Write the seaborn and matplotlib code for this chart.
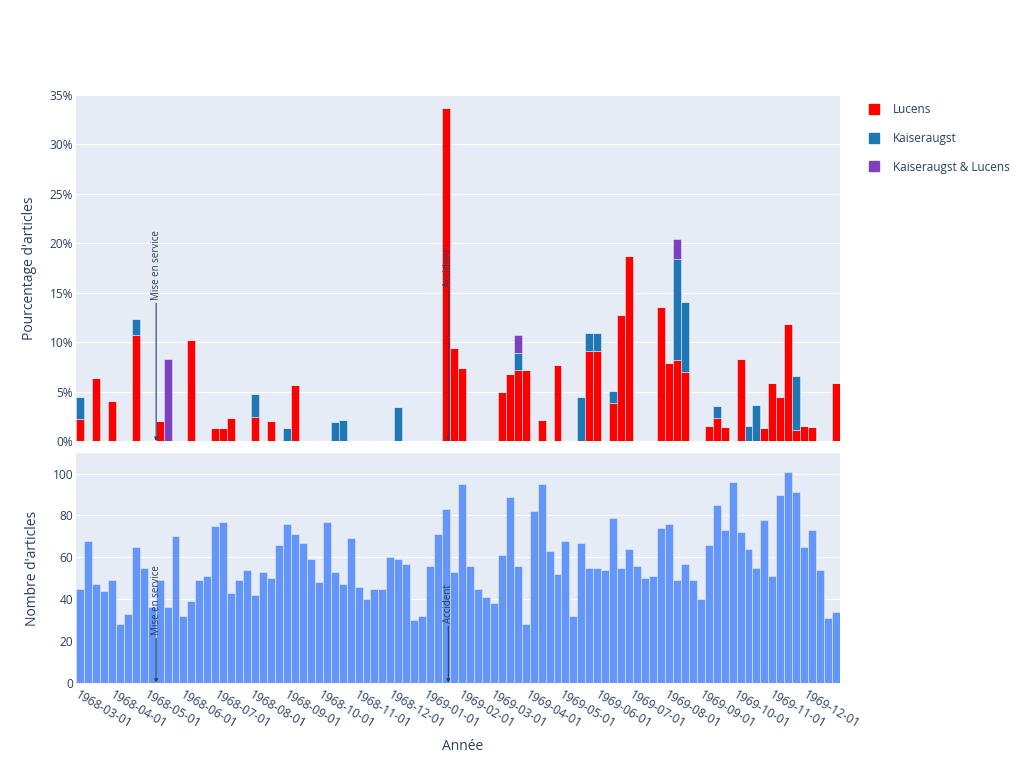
import numpy as np
import pandas as pd
import matplotlib
matplotlib.use('Agg')
import matplotlib.pyplot as plt
import matplotlib.dates as mdates
from matplotlib.lines import Line2D
from matplotlib.ticker import FuncFormatter, MultipleLocator
import seaborn as sns

# ---------------- data ----------------
weeks = pd.date_range('1968-03-01', periods=96, freq='7D')

nombre_articles = [
    45, 68, 47, 44, 49, 28, 33, 65, 55, 36, 49, 36,
    70, 32, 39, 49, 51, 75, 77, 43, 49, 54, 42, 53,
    50, 66, 76, 71, 67, 59, 48, 77, 53, 47, 69, 46,
    40, 45, 45, 60, 59, 57, 30, 32, 56, 71, 83, 53,
    95, 56, 45, 41, 38, 61, 89, 56, 28, 82, 95, 63,
    52, 68, 32, 67, 55, 55, 54, 79, 55, 64, 56, 50,
    51, 74, 76, 49, 57, 49, 40, 66, 85, 73, 96, 72,
    64, 55, 78, 51, 90, 101, 91, 65, 73, 54, 31, 34,
]

# percentages of articles per week
pct_lucens = [
    2.22, 0, 6.38, 0, 4.08, 0, 0, 10.77, 0, 0, 2.04, 0,
    0, 0, 10.26, 0, 0, 1.33, 1.30, 2.33, 0, 0, 2.38, 0,
    2.00, 0, 0, 5.63, 0, 0, 0, 0, 0, 0, 0, 0,
    0, 0, 0, 0, 0, 0, 0, 0, 0, 0, 33.73, 9.43,
    7.37, 0, 0, 0, 0, 4.92, 6.74, 7.14, 7.14, 0, 2.11, 0,
    7.69, 0, 0, 0, 9.09, 9.09, 0, 3.80, 12.73, 18.75, 0, 0,
    0, 13.51, 7.89, 8.16, 7.02, 0, 0, 1.52, 2.35, 1.37, 0, 8.33,
    0, 0, 1.28, 5.88, 4.44, 11.88, 1.10, 1.54, 1.37, 0, 0, 5.88,
]
pct_kaiseraugst = [
    2.22, 0, 0, 0, 0, 0, 0, 1.54, 0, 0, 0, 0,
    0, 0, 0, 0, 0, 0, 0, 0, 0, 0, 2.38, 0,
    0, 0, 1.32, 0, 0, 0, 0, 0, 1.89, 2.13, 0, 0,
    0, 0, 0, 0, 3.39, 0, 0, 0, 0, 0, 0, 0,
    0, 0, 0, 0, 0, 0, 0, 1.79, 0, 0, 0, 0,
    0, 0, 0, 4.48, 1.82, 1.82, 0, 1.27, 0, 0, 0, 0,
    0, 0, 0, 10.20, 7.02, 0, 0, 0, 1.18, 0, 0, 0,
    1.56, 3.64, 0, 0, 0, 0, 5.49, 0, 0, 0, 0, 0,
]
pct_kaiseraugst_lucens = [
    0, 0, 0, 0, 0, 0, 0, 0, 0, 0, 0, 8.33,
    0, 0, 0, 0, 0, 0, 0, 0, 0, 0, 0, 0,
    0, 0, 0, 0, 0, 0, 0, 0, 0, 0, 0, 0,
    0, 0, 0, 0, 0, 0, 0, 0, 0, 0, 0, 0,
    0, 0, 0, 0, 0, 0, 0, 1.79, 0, 0, 0, 0,
    0, 0, 0, 0, 0, 0, 0, 0, 0, 0, 0, 0,
    0, 0, 0, 2.04, 0, 0, 0, 0, 0, 0, 0, 0,
    0, 0, 0, 0, 0, 0, 0, 0, 0, 0, 0, 0,
]

series_names = ['Lucens', 'Kaiseraugst', 'Kaiseraugst & Lucens']
series_colors = ['#FF0000', '#1F77B4', '#7F3FBF']
count_color = '#6495F9'

event_labels = ['Mise en service', 'Accident']
event_dates = ['1968-05-07', '1969-01-19']

month_ticks = pd.date_range('1968-03-01', '1969-12-01', freq='MS')

# ---------------- style ----------------
TXT = '#2a3f5f'
BG = '#E5ECF6'
sns.set_theme(style='darkgrid', rc={
    'axes.facecolor': BG,
    'grid.color': 'white',
    'grid.linewidth': 0.8,
    'axes.edgecolor': BG,
})
plt.rcParams['font.family'] = ['Open Sans', 'DejaVu Sans']

fig = plt.figure(figsize=(10.24, 7.64), dpi=100)
W, H = 1024, 764
def ax_rect(x0, y0, x1, y1):
    return [x0 / W, 1 - y1 / H, (x1 - x0) / W, (y1 - y0) / H]

ax_top = fig.add_axes(ax_rect(76, 95, 840, 441))
ax_bot = fig.add_axes(ax_rect(76, 452.7, 840, 682.7))

xnum = mdates.date2num(weeks)
half = 3.5
edges = [float(v) for v in np.concatenate([xnum - half, [xnum[-1] + half]])]

# top: stacked percentages
long = pd.DataFrame({
    'date': np.tile(xnum, 3),
    'sujet': np.repeat(series_names, len(xnum)),
    'pct': np.concatenate([pct_lucens, pct_kaiseraugst, pct_kaiseraugst_lucens]),
})
stack_order = series_names[::-1]
pal = dict(zip(series_names, series_colors))
sns.histplot(data=long, x='date', weights='pct', hue='sujet',
             hue_order=stack_order, palette=pal, multiple='stack',
             bins=edges, alpha=1, edgecolor=BG, linewidth=0.4,
             legend=False, ax=ax_top)

# bottom: counts
cnt = pd.DataFrame({'date': xnum, 'n': nombre_articles})
sns.histplot(data=cnt, x='date', weights='n', bins=edges, color=count_color,
             alpha=1, edgecolor=BG, linewidth=0.4, ax=ax_bot)

xlim = (edges[0], edges[-1])
for ax in (ax_top, ax_bot):
    ax.set_xlim(*xlim)
    ax.set_xlabel('')
    ax.set_ylabel('')
    ax.grid(axis='x', visible=False)
    ax.grid(axis='y', color='white', linewidth=0.8)
    ax.set_axisbelow(True)
    for s in ax.spines.values():
        s.set_visible(False)
    ax.tick_params(length=0, colors=TXT, labelsize=8.6)
    ax.set_xticks(mdates.date2num(month_ticks))

ax_top.set_ylim(0, 35)
ax_top.yaxis.set_major_locator(MultipleLocator(5))
ax_top.yaxis.set_major_formatter(FuncFormatter(lambda v, p: f'{v:.0f}%'))
ax_top.tick_params(axis='x', labelbottom=False)
ax_top.tick_params(axis='y', pad=2)

ax_bot.set_ylim(0, 110)
ax_bot.set_yticks([0, 20, 40, 60, 80, 100])
ax_bot.tick_params(axis='y', pad=2)
ax_bot.set_xticklabels([d.strftime('%Y-%m-%d') for d in month_ticks],
                       rotation=-30, ha='left', va='top', rotation_mode='anchor')
ax_bot.tick_params(axis='x', pad=4)

# annotations
ev_num = mdates.date2num(pd.to_datetime(event_dates))
offsets_top = [101.5, 111]
offsets_bot = [34.3, 43]
for ax, offs in ((ax_top, offsets_top), (ax_bot, offsets_bot)):
    for lab, xv, off in zip(event_labels, ev_num, offs):
        ax.annotate(lab, xy=(xv, 0), xytext=(0, off), textcoords='offset points',
                    rotation=90, ha='center', va='bottom', fontsize=7, color=TXT,
                    arrowprops=dict(arrowstyle='-|>', color=TXT, lw=0.8,
                                    mutation_scale=5, shrinkA=0, shrinkB=0))

# axis titles
fig.text(30 / W, 1 - 268 / H, "Pourcentage d'articles", rotation=90,
         ha='center', va='center', fontsize=10, color=TXT)
fig.text(32 / W, 1 - 568 / H, "Nombre d'articles", rotation=90,
         ha='center', va='center', fontsize=10, color=TXT)
fig.text(463 / W, 1 - 746 / H, 'Année', ha='center', va='center',
         fontsize=10, color=TXT)

# legend
handles = [Line2D([0], [0], marker='s', linestyle='none', markersize=7.5,
                  markerfacecolor=c, markeredgecolor=c) for c in series_colors]
leg = fig.legend(handles, series_names, loc='upper left',
                 bbox_to_anchor=(863 / W, 1 - 98 / H), frameon=False,
                 fontsize=8.5, labelcolor=TXT, handlelength=1.0,
                 handletextpad=1.1, labelspacing=1.35, borderaxespad=0)

fig.savefig('out.png', dpi=100, facecolor='white')
